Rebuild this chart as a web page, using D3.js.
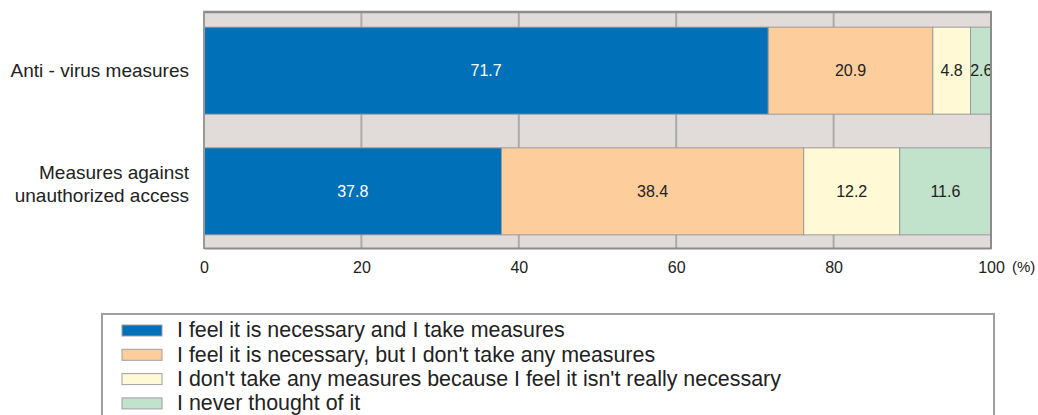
<!DOCTYPE html>
<html>
<head>
<meta charset="utf-8">
<script src="https://cdn.jsdelivr.net/npm/d3@7"></script>
<style>
  html, body { margin: 0; padding: 0; background: #fff; }
  svg { display: block; font-family: "Liberation Sans", Arial, Helvetica, sans-serif; }
</style>
</head>
<body>
<svg id="chart" width="1038" height="415"></svg>
<script>
const categories = ["Anti - virus measures", "Measures against\nunauthorized access"];
const seriesNames = [
  "I feel it is necessary and I take measures",
  "I feel it is necessary, but I don't take any measures",
  "I don't take any measures because I feel it isn't really necessary",
  "I never thought of it"
];
const takeMeasures = [71.7, 37.8];
const necessaryNoMeasures = [20.9, 38.4];
const notNecessary = [4.8, 12.2];
const neverThought = [2.6, 11.6];
const xTicks = [0, 20, 40, 60, 80, 100];
const colors = ["#0070b9", "#fdce9c", "#fff9d6", "#c1e2cb"];
const labelColors = ["#ffffff", "#222222", "#222222", "#222222"];

const seriesValues = [takeMeasures, necessaryNoMeasures, notNecessary, neverThought];
const rows = categories.map((c, i) => {
  const r = { cat: c };
  seriesNames.forEach((s, j) => r[s] = seriesValues[j][i]);
  return r;
});
const stacked = d3.stack().keys(seriesNames)(rows);

const svg = d3.select("#chart");
const x = d3.scaleLinear().domain([0, 100]).range([204, 991]);
const y = d3.scaleBand().domain(categories).range([14, 248]).paddingInner(0.279).paddingOuter(0.109);

// background
svg.append("rect").attr("x", x(0)).attr("y", 12).attr("width", x(100) - x(0)).attr("height", 236)
  .attr("fill", "#e1dcda");

// gridlines
svg.append("g").selectAll("line").data(xTicks.filter(t => t > 0 && t < 100)).join("line")
  .attr("x1", d => x(d)).attr("x2", d => x(d)).attr("y1", 12).attr("y2", 248)
  .attr("stroke", "#ababab").attr("stroke-width", 2);

// bars
const g = svg.append("g");
stacked.forEach((s, j) => {
  g.append("g").selectAll("rect").data(s).join("rect")
    .attr("x", d => x(d[0])).attr("width", d => x(d[1]) - x(d[0]))
    .attr("y", d => y(d.data.cat)).attr("height", y.bandwidth())
    .attr("fill", colors[j]).attr("stroke", "#9a9a9a").attr("stroke-width", 1);
});
stacked.forEach((s, j) => {
  g.append("g").selectAll("text").data(s).join("text")
    .attr("x", d => (x(d[0]) + x(d[1])) / 2 + (d[1] - d[0] < 4 ? 0.5 : 0))
    .attr("y", d => y(d.data.cat) + y.bandwidth() / 2)
    .attr("dy", "0.35em").attr("text-anchor", "middle")
    .attr("font-size", 16).attr("fill", labelColors[j])
    .text(d => (d[1] - d[0]).toFixed(1));
});

// borders
svg.append("line").attr("x1", x(0) - 1).attr("x2", x(100) + 1).attr("y1", 12).attr("y2", 12)
  .attr("stroke", "#8c8c8c").attr("stroke-width", 2.5);
svg.append("line").attr("x1", x(0)).attr("x2", x(0)).attr("y1", 11).attr("y2", 249)
  .attr("stroke", "#999").attr("stroke-width", 2);
svg.append("line").attr("x1", x(100)).attr("x2", x(100)).attr("y1", 11).attr("y2", 249)
  .attr("stroke", "#8c8c8c").attr("stroke-width", 2);

// x axis
const xAxis = d3.axisBottom(x).tickValues(xTicks).tickSize(0).tickPadding(14);
const ax = svg.append("g").attr("transform", "translate(0,248)").call(xAxis);
ax.select(".domain").attr("stroke", "#8c8c8c").attr("stroke-width", 2);
ax.selectAll("text").attr("font-size", 16).attr("fill", "#222")
  .attr("font-family", "Liberation Sans, Arial, sans-serif");
svg.append("text").attr("x", 1012).attr("y", 272).attr("font-size", 15).attr("fill", "#222").text("(%)");

// category labels
const yl = svg.append("g");
categories.forEach(c => {
  const lines = c.split("\n");
  const cy = y(c) + y.bandwidth() / 2 - (lines.length > 1 ? 7.5 : 0);
  lines.forEach((ln, k) => {
    yl.append("text")
      .attr("x", 189).attr("y", cy + (k - (lines.length - 1) / 2) * 23)
      .attr("dy", "0.35em").attr("text-anchor", "end").attr("font-size", 19).attr("fill", "#222")
      .text(ln);
  });
});

// legend
svg.append("rect").attr("x", 102).attr("y", 314).attr("width", 892).attr("height", 120)
  .attr("fill", "#fff").attr("stroke", "#a0a0a0").attr("stroke-width", 2);
const lg = svg.append("g");
seriesNames.forEach((s, j) => {
  const cy = 330 + j * 24.3;
  lg.append("rect").attr("x", 122).attr("y", cy - 5).attr("width", 40).attr("height", 11)
    .attr("fill", colors[j]).attr("stroke", "#a0a0a0").attr("stroke-width", 1);
  lg.append("text").attr("x", 177).attr("y", cy).attr("dy", "0.35em")
    .attr("font-size", 21.4).attr("fill", "#222").text(s);
});
</script>
</body>
</html>
